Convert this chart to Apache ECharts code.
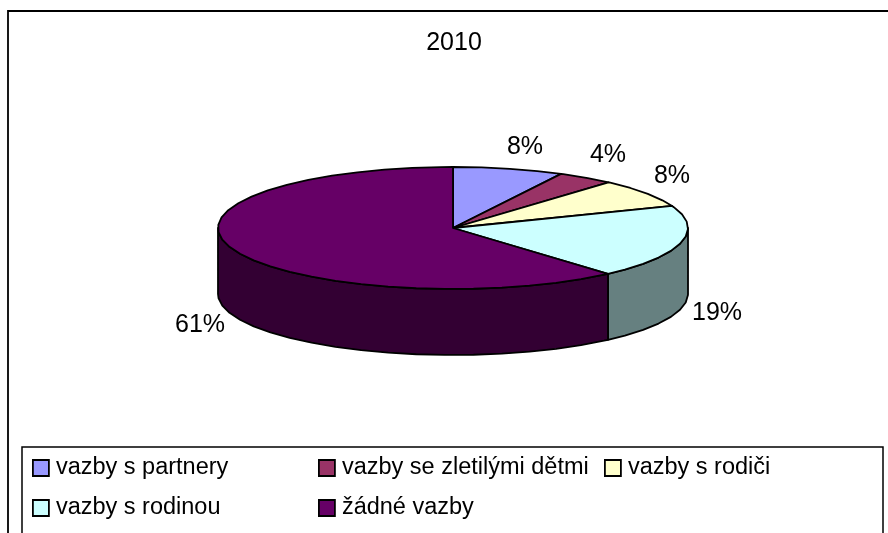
<!DOCTYPE html>
<html>
<head>
<meta charset="utf-8">
<style>html,body{margin:0;padding:0;background:#fff}#chart{width:888px;height:533px}</style>
<script src="https://cdn.jsdelivr.net/npm/echarts@6/dist/echarts.min.js"></script>
</head>
<body>
<div id="chart"></div>
<script>
var titleText = '2010';
var categories = ['vazby s partnery', 'vazby se zletilými dětmi', 'vazby s rodiči', 'vazby s rodinou', 'žádné vazby'];
var shares = [7.6, 3.9, 7.6, 19.4, 61.4];

var topColors = ['#9999ff', '#993366', '#ffffcc', '#ccffff', '#660066'];
var wallColors = ['#666699', '#662244', '#808066', '#668080', '#330033'];
var labelSpots = [[525, 147], [608, 155], [672, 176], [717, 313], [200, 325]];

var cx = 453, cy = 228, rx = 235, ry = 61, depth = 66;
var font = 'Liberation Sans';
var total = shares.reduce(function (a, b) { return a + b; }, 0);

function edge(deg, drop) {
	var t = deg * Math.PI / 180;
	return [cx + rx * Math.sin(t), cy - ry * Math.cos(t) + (drop || 0)];
}

function arcPoints(from, to, drop) {
	var pts = [], step = 7;
	// snap to a fixed grid of angles so the outline has the same facets all round
	for (var a = Math.ceil(from / step) * step; a < to; a += step) {
		if (a > from) pts.push(edge(a, drop));
	}
	return [edge(from, drop)].concat(pts, [edge(to, drop)]);
}

function sliceItem(idx) {
	return function (params, api) {
		var from = 0;
		for (var i = 0; i < idx; i++) from += shares[i] / total * 360;
		var to = from + api.value(0) / total * 360;
		var children = [];
		var line = { stroke: '#000', lineWidth: 1.8, lineJoin: 'round' };
		// only the front half of the side is visible
		var wFrom = Math.max(from, 90), wTo = Math.min(to, 270);
		if (wFrom < wTo) {
			children.push({
				type: 'polygon',
				shape: { points: arcPoints(wFrom, wTo, 0).concat(arcPoints(wFrom, wTo, depth).reverse()) },
				style: Object.assign({ fill: wallColors[idx] }, line)
			});
		}
		children.push({
			type: 'polygon',
			shape: { points: [[cx, cy]].concat(arcPoints(from, to, 0)) },
			style: Object.assign({ fill: topColors[idx] }, line)
		});
		children.push({
			type: 'text',
			z2: 10,
			style: {
				text: Math.round(api.value(0) / total * 100) + '%',
				x: labelSpots[idx][0],
				y: labelSpots[idx][1],
				align: 'center',
				verticalAlign: 'middle',
				fill: '#000',
				font: '25px "' + font + '"'
			}
		});
		return { type: 'group', children: children };
	};
}

var series = categories.map(function (name, i) {
	return {
		type: 'custom',
		name: name,
		coordinateSystem: 'none',
		silent: true,
		itemStyle: { color: topColors[i] },
		data: [[shares[i]]],
		renderItem: sliceItem(i)
	};
});

function legendColumn(names, left) {
	return {
		orient: 'vertical',
		left: left,
		top: 456,
		data: names,
		icon: 'rect',
		itemWidth: 16,
		itemHeight: 16,
		itemGap: 16,
		padding: 0,
		selectedMode: false,
		align: 'left',
		itemStyle: { borderColor: '#000', borderWidth: 1.8 },
		textStyle: { fontFamily: font, fontSize: 23.5, color: '#000', padding: [0, 0, 0, 2] }
	};
}

var option = {
	animation: false,
	backgroundColor: '#fff',
	title: {
		text: titleText,
		left: 454,
		top: 31,
		padding: 0,
		textAlign: 'center',
		textStyle: { fontFamily: font, fontSize: 25, fontWeight: 'normal', color: '#000' }
	},
	legend: [
		legendColumn([categories[0], categories[3]], 32),
		legendColumn([categories[1], categories[4]], 318),
		legendColumn([categories[2]], 604)
	],
	graphic: [
		{ type: 'rect', z: -1, shape: { x: 8, y: 11, width: 960, height: 600 }, style: { fill: '#fff', stroke: '#000', lineWidth: 1.8 } },
		{ type: 'rect', z: -1, shape: { x: 22, y: 447, width: 861, height: 160 }, style: { fill: '#fff', stroke: '#000', lineWidth: 1.5 } }
	],
	series: series
};

var chart = echarts.init(document.getElementById('chart'));
chart.setOption(option);
</script>
</body>
</html>
